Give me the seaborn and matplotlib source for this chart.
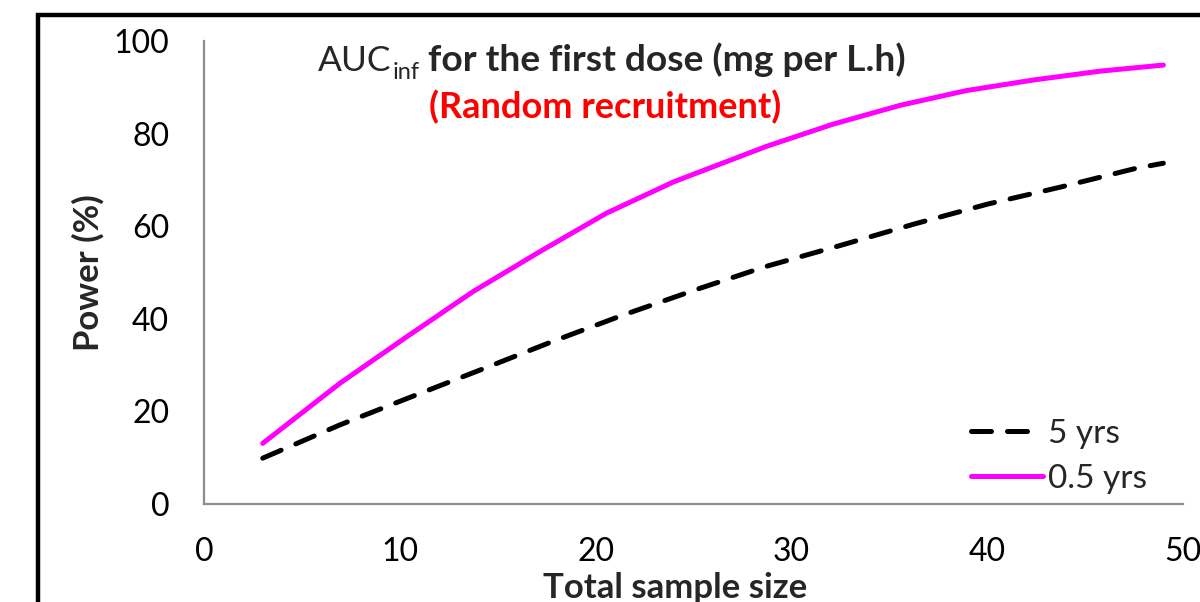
import numpy as np
import pandas as pd
import matplotlib
matplotlib.use("Agg")
import matplotlib.pyplot as plt
import seaborn as sns
from matplotlib.patches import Rectangle

# values
x_5yrs = [3, 6.95, 10.5, 14.2, 17.8, 21.4, 25.2, 28.7, 32.55, 36.3, 40.05, 43.8, 47.6, 49]
power_5yrs = [9.9, 17.1, 23.0, 29.1, 35.1, 40.8, 46.4, 51.3, 55.9, 60.5, 64.8, 68.5, 72.5, 73.6]

x_05yrs = [3, 6.95, 10.35, 13.75, 17.15, 20.55, 24, 28.7, 32.1, 35.55, 38.95, 42.4, 45.8, 49]
power_05yrs = [13.1, 26.1, 36.1, 45.9, 54.5, 62.8, 69.6, 77.2, 82.0, 86.1, 89.3, 91.6, 93.5, 94.8]

series_labels = ["5 yrs", "0.5 yrs"]
xticks = [0, 10, 20, 30, 40, 50]
yticks = [0, 20, 40, 60, 80, 100]

df_5 = pd.DataFrame({"n": x_5yrs, "power": power_5yrs})
df_05 = pd.DataFrame({"n": x_05yrs, "power": power_05yrs})

sns.set_theme(style="white")
plt.rcParams["font.family"] = ["Lato", "DejaVu Sans"]

fig = plt.figure(figsize=(12, 6.02), dpi=100)
ax = fig.add_axes([0.17, 0.1628, 0.8158, 0.7691])

sns.lineplot(data=df_5, x="n", y="power", ax=ax, color="black", lw=3.6,
             label=series_labels[0])
sns.lineplot(data=df_05, x="n", y="power", ax=ax, color="#FF00FF", lw=3.6,
             label=series_labels[1])
ax.lines[0].set_dashes((4, 3.2))
ax.lines[0].set_dash_capstyle("round")
ax.lines[1].set_solid_capstyle("round")

ax.set_xlim(0, 50)
ax.set_ylim(0, 100)
ax.set_xticks(xticks)
ax.set_yticks(yticks)
ax.tick_params(axis="both", length=0, labelsize=23, colors="black")
ax.tick_params(axis="x", pad=24)
ax.tick_params(axis="y", pad=25)

for side in ["top", "right"]:
    ax.spines[side].set_visible(False)
for side in ["left", "bottom"]:
    ax.spines[side].set_color("#8c8c8c")
    ax.spines[side].set_linewidth(1.6)

ax.set_xlabel("Total sample size", fontsize=25, fontweight="bold", va="center")
ax.xaxis.set_label_coords(0.481, -0.181)
ax.set_ylabel("Power (%)", fontsize=25, fontweight="bold", va="center")
ax.yaxis.set_label_coords(-0.1185, 0.5)

# title line 1: regular "AUC", subscript "inf", then bold text
t_auc = ax.text(0.1164, 0.935, "AUC", transform=ax.transAxes,
                ha="left", va="baseline", fontsize=25.5)
t_inf = ax.annotate("inf", xy=(1, 0.935), xycoords=(t_auc, "axes fraction"),
                    xytext=(0.5, -6), textcoords="offset points",
                    ha="left", va="baseline", fontsize=17)
ax.annotate("for the first dose (mg per L.h)", xy=(1, 0.935),
            xycoords=(t_inf, "axes fraction"), xytext=(6, 0),
            textcoords="offset points", ha="left", va="baseline",
            fontsize=26.7, fontweight="bold")
ax.text(0.410, 0.857, "(Random recruitment)", transform=ax.transAxes,
        ha="center", va="center", fontsize=26, fontweight="bold", color="red")

ax.legend(loc="lower right", bbox_to_anchor=(0.963, 0.022), frameon=False,
          fontsize=24, handlelength=2.15, handletextpad=0.15, borderpad=0,
          borderaxespad=0, labelspacing=0.45)

# outer chart-area border (runs off the right and bottom edges)
fig.patches.append(Rectangle((38 / 1200, -0.2), 1.2, 1.2 - 15 / 602,
                             transform=fig.transFigure, fill=False,
                             edgecolor="black", lw=3.2))

fig.savefig("out.png", dpi=100)
